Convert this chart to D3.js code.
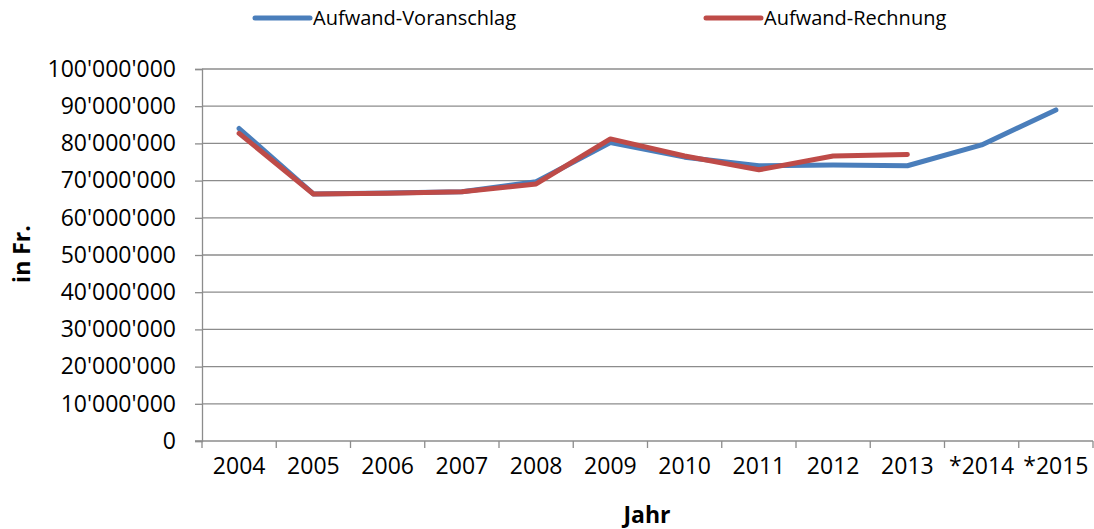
<!DOCTYPE html>
<html><head><meta charset="utf-8">
<script src="https://cdn.jsdelivr.net/npm/d3@7"></script>
<style>body{margin:0;background:#fff}svg{display:block}text{font-family:"Open Sans",sans-serif;fill:#000}</style>
</head><body><svg id="c" width="1094" height="529"></svg>
<script>
const categories = ["2004","2005","2006","2007","2008","2009","2010","2011","2012","2013","*2014","*2015"];
const voranschlag = [84.0e6,66.4e6,66.7e6,67.0e6,69.7e6,80.2e6,76.3e6,74.0e6,74.2e6,74.0e6,79.6e6,89.0e6];
const rechnung = [82.7e6,66.4e6,66.6e6,67.0e6,69.1e6,81.2e6,76.6e6,72.9e6,76.6e6,77.0e6,null,null];
const yTicks = [0,10e6,20e6,30e6,40e6,50e6,60e6,70e6,80e6,90e6,100e6];
const seriesNames = ["Aufwand-Voranschlag","Aufwand-Rechnung"];
const colors = ["#4A7EBB","#BE4B48"];

const svg = d3.select("#c");
const L = 202, R = 1093, T = 69, B = 441;
const x = d3.scaleBand().domain(categories).range([L, R]);
const y = d3.scaleLinear().domain([0, 100e6]).range([B, T]);
const fmt = v => d3.format(",")(v).replace(/,/g, "'");

// gridlines
svg.append("g").selectAll("line").data(yTicks.filter(d => d > 0)).join("line")
  .attr("x1", L).attr("x2", R).attr("y1", d => y(d)).attr("y2", d => y(d))
  .attr("stroke", "#8c8c8c").attr("stroke-width", 1.3);

// y axis
const ya = svg.append("g").attr("transform", `translate(${L},0)`)
  .call(d3.axisLeft(y).tickValues(yTicks).tickFormat(fmt).tickSize(7).tickPadding(19));
ya.select(".domain").attr("stroke", "#8c8c8c").attr("stroke-width", 1.3);
ya.selectAll(".tick line").attr("stroke", "#8c8c8c").attr("stroke-width", 1.3);
ya.selectAll(".tick text").attr("font-size", 23).attr("font-family", "Open Sans").attr("fill", "#000");

// x axis
const xa = svg.append("g").attr("transform", `translate(0,${B})`)
  .call(d3.axisBottom(x).tickSize(0).tickPadding(17));
xa.select(".domain").remove();
xa.selectAll(".tick text").attr("font-size", 23).attr("font-family", "Open Sans").attr("fill", "#000");
svg.append("line").attr("x1", L - 7).attr("x2", R).attr("y1", B).attr("y2", B)
  .attr("stroke", "#8c8c8c").attr("stroke-width", 1.3);
const bounds = categories.map(c => x(c)).concat([x(categories[categories.length-1]) + x.bandwidth()]);
svg.append("g").selectAll("line").data(bounds).join("line")
  .attr("x1", d => d).attr("x2", d => d).attr("y1", B).attr("y2", B + 7)
  .attr("stroke", "#8c8c8c").attr("stroke-width", 1.3);

// lines
const line = d3.line().defined(d => d.v != null)
  .x(d => x(d.c) + x.bandwidth() / 2).y(d => y(d.v));
[voranschlag, rechnung].forEach((arr, i) => {
  svg.append("path").datum(categories.map((c, j) => ({c, v: arr[j]})))
    .attr("d", line).attr("fill", "none").attr("stroke", colors[i])
    .attr("stroke-width", 5).attr("stroke-linejoin", "round").attr("stroke-linecap", "round");
});

// axis titles
svg.append("text").attr("x", 647).attr("y", 523).attr("text-anchor", "middle")
  .attr("font-size", 23).attr("font-weight", "bold").text("Jahr");
svg.append("text").attr("transform", "translate(30,254) rotate(-90)").attr("text-anchor", "middle")
  .attr("font-size", 23).attr("font-weight", "bold").text("in Fr.");

// legend
const legX = [255, 706];
seriesNames.forEach((n, i) => {
  const g = svg.append("g").attr("transform", `translate(${legX[i]},18)`);
  g.append("line").attr("x1", 0).attr("x2", 55).attr("stroke", colors[i])
    .attr("stroke-width", 5).attr("stroke-linecap", "round");
  g.append("text").attr("x", 58).attr("y", 7).attr("font-size", 20).text(n);
});
</script></body></html>
